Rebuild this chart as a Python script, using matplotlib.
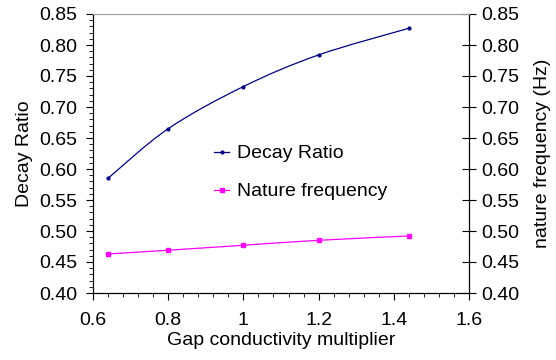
import numpy as np
import matplotlib
matplotlib.use("Agg")
import matplotlib.pyplot as plt
from matplotlib.path import Path
from matplotlib.patches import PathPatch
from matplotlib.lines import Line2D
from matplotlib.ticker import MultipleLocator

plt.rcParams['font.family'] = ['Liberation Sans', 'DejaVu Sans']

gap_multiplier = [0.64, 0.8, 1.0, 1.2, 1.44]
decay_ratio = [0.585, 0.665, 0.733, 0.784, 0.827]
nature_freq = [0.463, 0.469, 0.477, 0.485, 0.492]

x_ticks = [0.6, 0.8, 1.0, 1.2, 1.4, 1.6]
x_tick_labels = ['0.6', '0.8', '1', '1.2', '1.4', '1.6']
y_ticks = [0.40, 0.45, 0.50, 0.55, 0.60, 0.65, 0.70, 0.75, 0.80, 0.85]

navy = '#000080'
magenta = '#FF00FF'
FS = 14


def smooth_path(xs, ys, t=1/6):
    xs = np.asarray(xs, float)
    ys = np.asarray(ys, float)
    n = len(xs)
    verts = [(xs[0], ys[0])]
    codes = [Path.MOVETO]
    for i in range(n - 1):
        p0 = np.array([xs[max(i - 1, 0)], ys[max(i - 1, 0)]])
        p1 = np.array([xs[i], ys[i]])
        p2 = np.array([xs[i + 1], ys[i + 1]])
        p3 = np.array([xs[min(i + 2, n - 1)], ys[min(i + 2, n - 1)]])
        c1 = p1 + (p2 - p0) * t
        c2 = p2 - (p3 - p1) * t
        verts += [tuple(c1), tuple(c2), tuple(p2)]
        codes += [Path.CURVE4] * 3
    return Path(verts, codes)


fig = plt.figure(figsize=(5.56, 3.6), dpi=100)
ax = fig.add_axes([93/556, 1 - 293/360, (469 - 93)/556, (293 - 14)/360])
ax2 = ax.twinx()

ax.set_xlim(0.6, 1.6)
ax.set_ylim(0.40, 0.85)
ax2.set_ylim(0.40, 0.85)

for ys, col, mk, ms in [(decay_ratio, navy, 'o', 2.0), (nature_freq, magenta, 's', 2.5)]:
    ax.add_patch(PathPatch(smooth_path(gap_multiplier, ys), facecolor='none',
                           edgecolor=col, lw=0.9, transform=ax.transData))
    ax.plot(gap_multiplier, ys, linestyle='none', marker=mk, ms=ms, color=col)

ax.set_xticks(x_ticks)
ax.set_xticklabels(x_tick_labels)
ax.xaxis.set_minor_locator(MultipleLocator(0.04))
ax.set_yticks(y_ticks)
ax.set_yticklabels([f'{v:.2f}' for v in y_ticks])
ax.yaxis.set_minor_locator(MultipleLocator(0.01))
ax2.set_yticks(y_ticks)
ax2.set_yticklabels([f'{v:.2f}' for v in y_ticks])

ax.tick_params(axis='both', which='major', labelsize=FS, direction='out', length=5, width=0.8)
ax.tick_params(axis='x', which='major', pad=9)
ax.tick_params(axis='y', which='major', pad=6)
ax.tick_params(axis='both', which='minor', direction='out', length=3, width=0.6)
ax2.tick_params(axis='y', which='major', labelsize=FS, direction='inout', length=10, width=0.8, pad=4)
ax2.yaxis.set_minor_locator(plt.NullLocator())

ax.spines['top'].set_color('#A0A0A0')
ax2.spines['top'].set_color('#A0A0A0')
for a in (ax, ax2):
    for s in ('left', 'right', 'bottom'):
        a.spines[s].set_linewidth(0.8)

ax.set_xlabel('Gap conductivity multiplier', fontsize=FS, labelpad=2)
ax.set_ylabel('Decay Ratio', fontsize=FS, labelpad=5)
ax2.set_ylabel('nature frequency (Hz)', fontsize=FS, labelpad=10)

handles = [Line2D([0], [0], color=navy, lw=0.9, marker='o', ms=2.0),
           Line2D([0], [0], color=magenta, lw=0.9, marker='s', ms=2.5)]
ax.legend(handles, ['Decay Ratio', 'Nature frequency'], frameon=False,
          loc='upper left', bbox_to_anchor=((206 - 93)/376, (293 - 137)/279),
          fontsize=FS, handlelength=0.8, handletextpad=0.4, labelspacing=1.05,
          borderaxespad=0)

fig.savefig('out.png', dpi=100)
